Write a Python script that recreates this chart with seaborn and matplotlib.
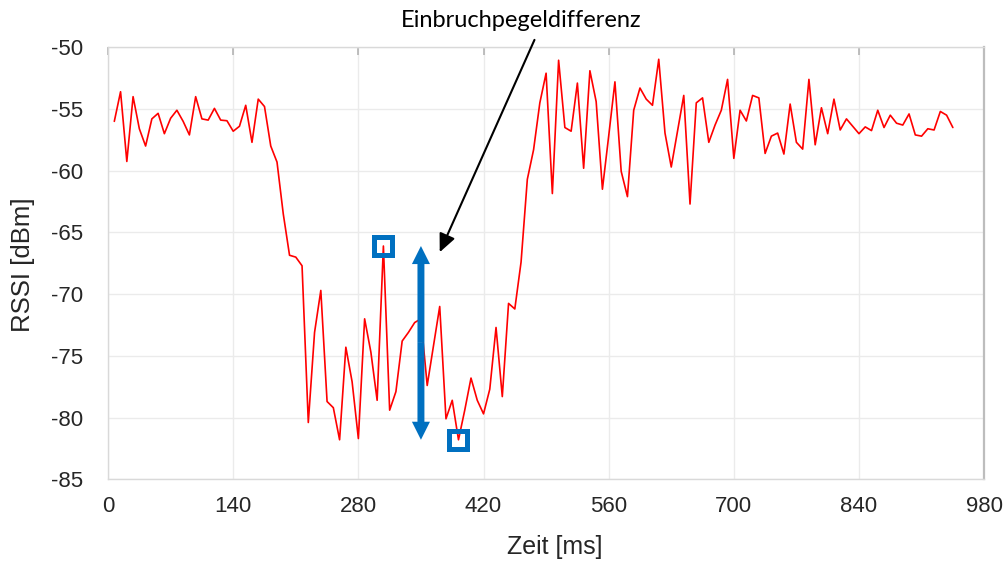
import numpy as np
import pandas as pd
import matplotlib
matplotlib.use("Agg")
import matplotlib.pyplot as plt
import seaborn as sns

# ---------------- data ----------------
# RSSI samples, one every 7 ms (first sample at 7 ms)
sample_step_ms = 7
rssi_dbm = [
    -56.0, -53.6, -59.25, -54.0, -56.6, -58.0, -55.8, -55.35, -57.0, -55.75,
    -55.1, -56.0, -57.1, -54.0, -55.8, -55.9, -54.95, -55.9, -55.95, -56.8,
    -56.4, -54.7, -57.7, -54.2, -54.8, -58.0, -59.3,
    -63.5, -66.85, -67.0, -67.7, -80.4, -73.1, -69.7, -78.7, -79.2, -81.8,
    -74.3, -77.1, -81.7, -72.0, -74.7, -78.6, -66.1, -79.4, -77.9, -73.8,
    -73.1, -72.3, -72.0, -77.4, -74.2, -71.0, -80.1, -78.6, -81.8, -79.4,
    -76.8, -78.6, -79.7, -77.7, -72.7, -78.3, -70.75, -71.2, -67.4,
    -60.7, -58.3, -54.5, -52.1, -61.85, -51.05, -56.5, -56.8, -52.9, -59.8,
    -51.9, -54.4, -61.5, -57.2, -52.8, -60.05, -62.1, -55.1, -53.3, -54.2,
    -54.7, -50.97, -56.95, -59.7, -56.8, -53.9, -62.7, -54.5, -54.1, -57.7,
    -56.3, -55.1, -52.6, -59.0, -55.1, -55.97, -53.9, -54.1, -58.6, -57.2,
    -56.95, -58.65, -54.6, -57.7, -58.25, -52.6, -57.9, -54.9, -57.0, -54.2,
    -56.7, -55.8, -56.4, -57.0, -56.45, -56.75, -55.1, -56.5, -55.5, -56.15,
    -56.3, -55.4, -57.1, -57.2, -56.6, -56.7, -55.2, -55.5, -56.5,
]
time_ms = [sample_step_ms * (i + 1) for i in range(len(rssi_dbm))]

x_ticks = [0, 140, 280, 420, 560, 700, 840, 980]
y_ticks = [-85, -80, -75, -70, -65, -60, -55, -50]

# highlighted samples (peak inside the dip, deepest point)
marked_times = [308, 392]
arrow_time = 350
label_arrow_tip = (371, -66.6)
label_arrow_tail = (477, -49.4)
annotation_text = "Einbruchpegeldifferenz"

df = pd.DataFrame({"Zeit": time_ms, "RSSI": rssi_dbm})
marked = df[df["Zeit"].isin(marked_times)]

# ---------------- style ----------------
sns.set_theme(style="whitegrid")
plt.rcParams["font.family"] = ["Liberation Sans", "DejaVu Sans"]

BLUE = "#0070C0"
TXT = "#262626"

fig = plt.figure(figsize=(10.07, 5.67), dpi=100)
ax = fig.add_axes([0.1073, 0.1547, 0.8700, 0.7619])

sns.lineplot(data=df, x="Zeit", y="RSSI", color="#FF0000", lw=1.2,
             estimator=None, ax=ax, zorder=3)

ax.set_xlim(0, 980)
ax.set_ylim(-85, -50)
ax.set_xticks(x_ticks)
ax.set_yticks(y_ticks)
ax.set_xticklabels([str(v) for v in x_ticks])
ax.set_yticklabels([str(v) for v in y_ticks])

ax.grid(True, color="#ebebeb", lw=1.0)
for side in ["left", "bottom", "top"]:
    ax.spines[side].set_color("#d9d9d9")
    ax.spines[side].set_linewidth(1.0)
ax.spines["right"].set_color("#bdbdbd")
ax.spines["right"].set_linewidth(1.6)

ax.tick_params(axis="y", labelsize=16, labelcolor=TXT, pad=18, length=0)
ax.tick_params(axis="x", labelsize=16, labelcolor=TXT, pad=12, length=0)
ax.tick_params(axis="x", which="major", top=True, direction="in",
               length=6, color="#b3b3b3", width=1.2)

ax.set_xlabel("Zeit [ms]", fontsize=18, color=TXT)
ax.set_ylabel("RSSI [dBm]", fontsize=18.5, color=TXT)
ax.xaxis.set_label_coords(0.51, -0.128)
ax.yaxis.set_label_coords(-0.083, 0.497)

# hollow square markers
ax.plot(marked["Zeit"], marked["RSSI"], ls="none", marker="s", ms=13.5,
        mfc="none", mec=BLUE, mew=3.6, zorder=4)

# double-headed vertical arrow between the two marked levels
top_val = marked["RSSI"].max()
bot_val = marked["RSSI"].min()
mid_val = (top_val + bot_val) / 2
for end in (top_val, bot_val):
    ax.annotate("", xy=(arrow_time, end), xytext=(arrow_time, mid_val),
                arrowprops=dict(arrowstyle="simple,head_length=1.3,head_width=1.3,tail_width=0.5",
                                mutation_scale=10, color=BLUE, lw=0,
                                shrinkA=0, shrinkB=0), zorder=5)

# label arrow
ax.annotate("", xy=label_arrow_tip, xytext=label_arrow_tail,
            arrowprops=dict(arrowstyle="-|>,head_length=0.55,head_width=0.25",
                            mutation_scale=20, color="black", lw=1.5,
                            shrinkA=0, shrinkB=0),
            annotation_clip=False, zorder=6)
fig.text(0.518, 0.9647, annotation_text, ha="center", va="center",
         fontsize=17, family=["Lato", "DejaVu Sans"], color="black")

fig.savefig("out.png", dpi=100)
